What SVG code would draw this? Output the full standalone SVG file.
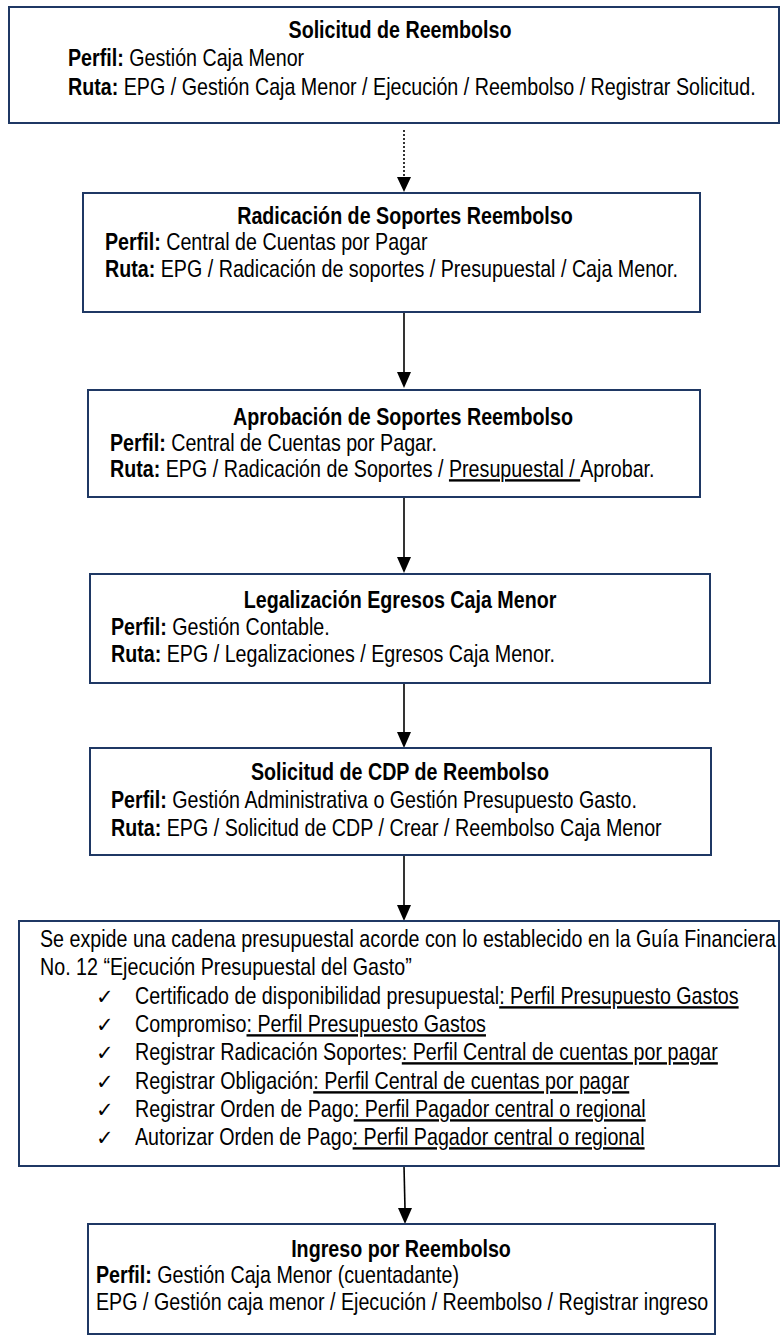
<svg xmlns="http://www.w3.org/2000/svg" width="781" height="1336" viewBox="0 0 781 1336">
<style>
.bx{fill:#fff;stroke:#1F3864;stroke-width:2}
.t{font-family:"Liberation Sans",Arial,sans-serif;font-size:24px;fill:#000}
.h{font-weight:bold;text-anchor:middle}
.ck{font-family:"DejaVu Sans",sans-serif;font-size:21px;fill:#000}
.c{stroke:#000;stroke-width:1.6;fill:none}
.u{text-decoration:underline}
</style>
<rect width="781" height="1336" fill="#fff"/>
<g id="connectors">
<line class="c" x1="404" y1="130" x2="404" y2="177" stroke-dasharray="2,2"/>
<path d="M397,177 L411,177 L404,192 Z" fill="#000"/>
<line class="c" x1="404" y1="312" x2="404" y2="373"/>
<path d="M397,372 L411,372 L404,388 Z" fill="#000"/>
<line class="c" x1="404" y1="497" x2="404" y2="558"/>
<path d="M397,557 L411,557 L404,573 Z" fill="#000"/>
<line class="c" x1="404" y1="683" x2="404" y2="733"/>
<path d="M397,732 L411,732 L404,748 Z" fill="#000"/>
<line class="c" x1="404" y1="855" x2="404" y2="906"/>
<path d="M397,905 L411,905 L404,921 Z" fill="#000"/>
<line class="c" x1="404" y1="1166" x2="405" y2="1209"/>
<path d="M398,1208 L412,1208 L405,1224 Z" fill="#000"/>
</g>
<g id="n1">
<rect class="bx" x="9" y="7" width="770" height="116"/>
<text class="t h" transform="translate(400 38) scale(0.82 1)">Solicitud de Reembolso</text>
<text class="t" transform="translate(68 66) scale(0.82 1)"><tspan font-weight="bold">Perfil:</tspan> Gestión Caja Menor</text>
<text class="t" transform="translate(68 95) scale(0.82 1)"><tspan font-weight="bold">Ruta:</tspan> EPG / Gestión Caja Menor / Ejecución / Reembolso / Registrar Solicitud.</text>
</g>
<g id="n2">
<rect class="bx" x="83" y="193" width="617" height="119"/>
<text class="t h" transform="translate(405 224) scale(0.82 1)">Radicación de Soportes Reembolso</text>
<text class="t" transform="translate(105 250) scale(0.82 1)"><tspan font-weight="bold">Perfil:</tspan> Central de Cuentas por Pagar</text>
<text class="t" transform="translate(105 277) scale(0.82 1)"><tspan font-weight="bold">Ruta:</tspan> EPG / Radicación de soportes / Presupuestal / Caja Menor.</text>
</g>
<g id="n3">
<rect class="bx" x="88" y="390" width="612" height="107"/>
<text class="t h" transform="translate(403 425) scale(0.82 1)">Aprobación de Soportes Reembolso</text>
<text class="t" transform="translate(110 451) scale(0.82 1)"><tspan font-weight="bold">Perfil:</tspan> Central de Cuentas por Pagar.</text>
<text class="t" transform="translate(110 477) scale(0.82 1)"><tspan font-weight="bold">Ruta:</tspan> EPG / Radicación de Soportes / <tspan class="u">Presupuestal / </tspan>Aprobar.</text>
</g>
<g id="n4">
<rect class="bx" x="90" y="574" width="620" height="109"/>
<text class="t h" transform="translate(400 608) scale(0.82 1)">Legalización Egresos Caja Menor</text>
<text class="t" transform="translate(111 635) scale(0.82 1)"><tspan font-weight="bold">Perfil:</tspan> Gestión Contable.</text>
<text class="t" transform="translate(111 662) scale(0.82 1)"><tspan font-weight="bold">Ruta:</tspan> EPG / Legalizaciones / Egresos Caja Menor.</text>
</g>
<g id="n5">
<rect class="bx" x="90" y="748" width="621" height="107"/>
<text class="t h" transform="translate(400 780) scale(0.82 1)">Solicitud de CDP de Reembolso</text>
<text class="t" transform="translate(111 808) scale(0.82 1)"><tspan font-weight="bold">Perfil:</tspan> Gestión Administrativa o Gestión Presupuesto Gasto.</text>
<text class="t" transform="translate(111 836) scale(0.82 1)"><tspan font-weight="bold">Ruta:</tspan> EPG / Solicitud de CDP / Crear / Reembolso Caja Menor</text>
</g>
<g id="n6">
<rect class="bx" x="19" y="921" width="760" height="245"/>
<text class="t" transform="translate(40 947) scale(0.82 1)">Se expide una cadena presupuestal acorde con lo establecido en la Guía Financiera</text>
<text class="t" transform="translate(40 975) scale(0.82 1)">No. 12 “Ejecución Presupuestal del Gasto”</text>
<text class="ck" x="96" y="1004">✓</text>
<text class="t" transform="translate(135 1004) scale(0.82 1)">Certificado de disponibilidad presupuestal<tspan class="u">: Perfil Presupuesto Gastos</tspan></text>
<text class="ck" x="96" y="1032">✓</text>
<text class="t" transform="translate(135 1032) scale(0.82 1)">Compromiso<tspan class="u">: Perfil Presupuesto Gastos</tspan></text>
<text class="ck" x="96" y="1060">✓</text>
<text class="t" transform="translate(135 1060) scale(0.82 1)">Registrar Radicación Soportes<tspan class="u">: Perfil Central de cuentas por pagar</tspan></text>
<text class="ck" x="96" y="1089">✓</text>
<text class="t" transform="translate(135 1089) scale(0.82 1)">Registrar Obligación<tspan class="u">: Perfil Central de cuentas por pagar</tspan></text>
<text class="ck" x="96" y="1117">✓</text>
<text class="t" transform="translate(135 1117) scale(0.82 1)">Registrar Orden de Pago<tspan class="u">: Perfil Pagador central o regional</tspan></text>
<text class="ck" x="96" y="1145">✓</text>
<text class="t" transform="translate(135 1145) scale(0.82 1)">Autorizar Orden de Pago<tspan class="u">: Perfil Pagador central o regional</tspan></text>
</g>
<g id="n7">
<rect class="bx" x="88" y="1224" width="627" height="110"/>
<text class="t h" transform="translate(401 1257) scale(0.82 1)">Ingreso por Reembolso</text>
<text class="t" transform="translate(96 1283) scale(0.82 1)"><tspan font-weight="bold">Perfil:</tspan> Gestión Caja Menor (cuentadante)</text>
<text class="t" transform="translate(96 1310) scale(0.82 1)">EPG / Gestión caja menor / Ejecución / Reembolso / Registrar ingreso</text>
</g>
</svg>
